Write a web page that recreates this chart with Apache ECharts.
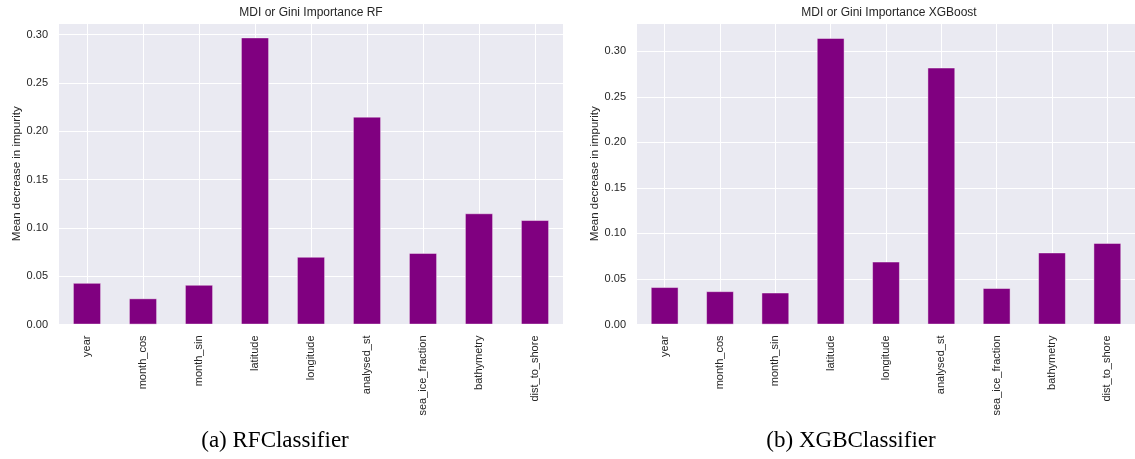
<!DOCTYPE html>
<html>
<head>
<meta charset="utf-8">
<script src="https://cdn.jsdelivr.net/npm/echarts@6/dist/echarts.min.js"></script>
<style>
  html, body { margin: 0; padding: 0; background: #ffffff; }
  #chart { width: 1135px; height: 459px; }
</style>
</head>
<body>
<div id="chart"></div>
<script>
// Feature names shared by both models
const features = ['year', 'month_cos', 'month_sin', 'latitude', 'longitude',
  'analysed_st', 'sea_ice_fraction', 'bathymetry', 'dist_to_shore'];

// Mean decrease in impurity per feature
const rfImportance = [0.043, 0.027, 0.041, 0.297, 0.070, 0.215, 0.074, 0.115, 0.108];
const xgbImportance = [0.041, 0.0365, 0.035, 0.3145, 0.069, 0.282, 0.040, 0.079, 0.0895];

// Panel titles, captions and the shared axis title
const panelTitles = ['MDI or Gini Importance RF', 'MDI or Gini Importance XGBoost'];
const captions = ['(a) RFClassifier', '(b) XGBClassifier'];
const yAxisTitle = 'Mean decrease in impurity';
const yMax = [0.312, 0.331];

const sans = '"Liberation Sans", Arial, sans-serif';
const serif = '"Liberation Serif", "DejaVu Serif", serif';
const textColor = '#262626';

const grids = [
  { left: 59, right: 1135 - 563, top: 23, bottom: 459 - 324.5 },
  { left: 637, right: 1135 - 1141, top: 23, bottom: 459 - 324.5 }
];

function xAxisFor(i) {
  return {
    type: 'category',
    gridIndex: i,
    data: features,
    boundaryGap: true,
    axisLine: { show: false },
    axisTick: { show: false },
    axisLabel: {
      rotate: 90,
      color: textColor,
      fontFamily: sans,
      fontSize: 11,
      margin: 11,
      interval: 0
    },
    splitLine: {
      show: true,
      alignWithLabel: true,
      lineStyle: { color: '#ffffff', width: 1 }
    }
  };
}

function yAxisFor(i) {
  return {
    type: 'value',
    gridIndex: i,
    min: 0,
    max: yMax[i],
    interval: 0.05,
    name: yAxisTitle,
    nameLocation: 'middle',
    nameGap: 35,
    nameTextStyle: { color: textColor, fontFamily: sans, fontSize: 11.5 },
    axisLine: { show: false },
    axisTick: { show: false },
    axisLabel: {
      color: textColor,
      fontFamily: sans,
      fontSize: 11,
      margin: 11,
      showMaxLabel: false,
      formatter: v => v.toFixed(2)
    },
    splitLine: { show: true, lineStyle: { color: '#ffffff', width: 1 } }
  };
}

function barSeries(i, values) {
  return {
    type: 'bar',
    xAxisIndex: i,
    yAxisIndex: i,
    data: values,
    barWidth: '50%',
    itemStyle: {
      color: '#800080',
      borderColor: 'rgba(255,255,255,0.55)',
      borderWidth: 0.8
    },
    silent: true,
    animation: false
  };
}

function centeredText(text, x, y, font, fill) {
  return {
    type: 'text',
    x: x,
    y: y,
    style: { text: text, font: font, fill: fill, textAlign: 'center', textVerticalAlign: 'middle' }
  };
}

const chart = echarts.init(document.getElementById('chart'), null, { renderer: 'canvas' });

chart.setOption({
  backgroundColor: '#ffffff',
  animation: false,
  grid: grids.map(g => Object.assign({
    show: true,
    backgroundColor: '#EAEAF2',
    borderWidth: 0,
    containLabel: false
  }, g)),
  xAxis: [xAxisFor(0), xAxisFor(1)],
  yAxis: [yAxisFor(0), yAxisFor(1)],
  series: [barSeries(0, rfImportance), barSeries(1, xgbImportance)],
  graphic: [
    centeredText(panelTitles[0], 311, 13, '12px ' + sans, textColor),
    centeredText(panelTitles[1], 889, 13, '12px ' + sans, textColor),
    centeredText(captions[0], 275, 441, '23px ' + serif, '#000000'),
    centeredText(captions[1], 851, 441, '23px ' + serif, '#000000')
  ]
});
</script>
</body>
</html>
